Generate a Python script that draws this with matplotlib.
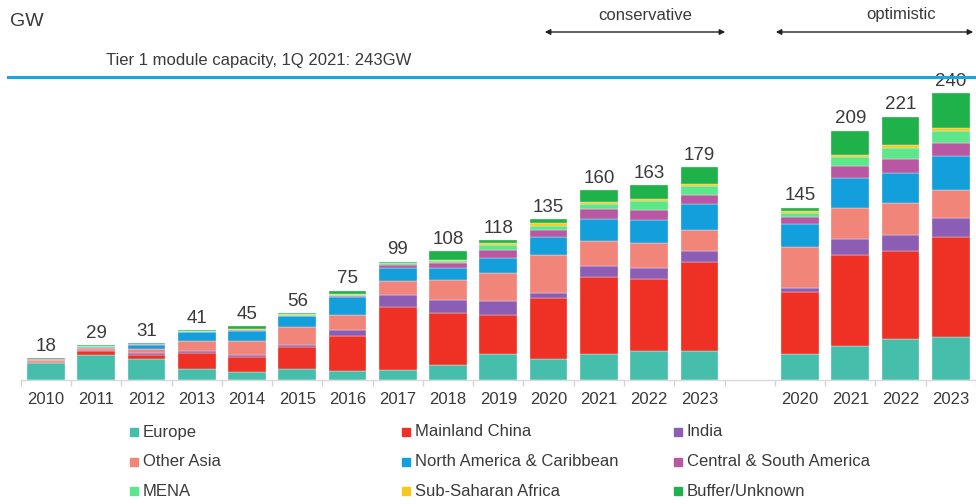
import matplotlib
matplotlib.use("Agg")
import matplotlib.pyplot as plt
from matplotlib.patches import Rectangle, FancyArrowPatch
from matplotlib.lines import Line2D
import numpy as np

plt.rcParams['font.family'] = ['Liberation Sans', 'DejaVu Sans']

years = ["2010", "2011", "2012", "2013", "2014", "2015", "2016", "2017", "2018",
         "2019", "2020", "2021", "2022", "2023", "2020", "2021", "2022", "2023"]
totals = [18, 29, 31, 41, 45, 56, 75, 99, 108, 118, 135, 160, 163, 179, 145, 209, 221, 240]

europe = [14.5, 20.7, 17.9, 9.5, 6.4, 9.0, 7.3, 8.7, 12.3, 21.8, 17.4, 21.8, 24.6, 24.6, 21.6, 28.9, 34.2, 36.4]
china = [0.6, 3.9, 3.4, 13.5, 13.2, 18.5, 29.4, 52.6, 43.7, 33.1, 51.8, 65.0, 60.6, 74.3, 52.0, 75.9, 73.9, 83.8]
india = [0.3, 0.6, 1.1, 1.6, 1.4, 2.2, 5.0, 10.1, 11.2, 11.5, 4.2, 9.2, 8.9, 9.8, 3.9, 13.4, 14.0, 16.0]
other_asia = [1.2, 1.4, 3.4, 8.4, 12.0, 14.8, 12.9, 11.8, 16.6, 23.8, 31.6, 21.0, 21.3, 17.6, 34.0, 26.6, 26.3, 23.5]
north_america = [0.6, 1.0, 3.3, 7.0, 7.9, 9.0, 15.1, 11.2, 10.3, 12.0, 15.4, 18.5, 19.3, 21.3, 19.6, 25.2, 25.8, 28.9]
central_south_america = [0.3, 0.3, 0.9, 0.6, 0.8, 0.6, 1.2, 2.5, 3.9, 7.0, 5.6, 7.8, 8.2, 7.9, 5.6, 10.1, 11.2, 10.4]
mena = [0.3, 0.3, 0.3, 0.3, 0.6, 0.6, 0.6, 1.1, 1.7, 4.2, 3.7, 4.5, 7.8, 7.5, 3.9, 7.0, 9.5, 10.4]
sub_saharan_africa = [0.1, 0.1, 0.2, 0.2, 0.6, 0.5, 0.4, 0.6, 1.1, 2.0, 2.0, 1.7, 1.1, 1.7, 1.7, 2.0, 2.2, 2.0]
buffer_unknown = [0.5, 0.9, 0.5, 0.5, 2.2, 1.1, 3.0, 0.8, 7.3, 2.2, 3.3, 10.1, 11.8, 14.0, 2.5, 20.2, 24.0, 29.4]

series_names = ["Europe", "Mainland China", "India", "Other Asia", "North America & Caribbean",
                "Central & South America", "MENA", "Sub-Saharan Africa", "Buffer/Unknown"]
series = [europe, china, india, other_asia, north_america, central_south_america,
          mena, sub_saharan_africa, buffer_unknown]
colors = ["#45bfac", "#ee3124", "#8b5db5", "#f2857a", "#139fdc", "#b957a3",
          "#5ee68a", "#f8c81c", "#1fb24b"]

capacity_label = "Tier 1 module capacity, 1Q 2021: 243GW"

W, H = 976, 504
fig = plt.figure(figsize=(W / 100, H / 100), dpi=100)
ax_left = 20.7 / W
ax_bottom = (H - 380) / H
ax = fig.add_axes([ax_left, ax_bottom, 1 - ax_left, 1 - ax_bottom])

positions = list(range(14)) + list(range(15, 19))
x = np.array(positions, dtype=float)
bottom = np.zeros(len(x))
txt = "#3a3a3a"
for name, vals, c in zip(series_names, series, colors):
    v = np.array(vals)
    ax.bar(x, v, bottom=bottom, width=0.75, color=c, edgecolor="#f4f4f4", linewidth=0.25, label=name)
    bottom += v

for xi, top, t in zip(x, bottom, totals):
    ax.annotate(str(t), (xi, top), xytext=(0, 2.5), textcoords="offset points",
                ha="center", va="bottom", fontsize=13.5, color=txt)

ax.set_xlim(-0.5, 18.5)
ax.set_ylim(0, 380 / 1.19)
ax.set_xticks(x)
ax.set_xticklabels(years, fontsize=12, color=txt)
ax.tick_params(axis="x", which="major", length=0, pad=9)
ax.set_xticks(np.arange(-0.5, 18.6, 1.0), minor=True)
ax.tick_params(axis="x", which="minor", length=4.5, color="#d4d4d4", width=1)
ax.set_yticks([])
for s in ["top", "left", "right"]:
    ax.spines[s].set_visible(False)
ax.spines["bottom"].set_color("#d9d9d9")
ax.spines["bottom"].set_linewidth(1)

# capacity line
fig.add_artist(Line2D([8 / W, 1.0], [1 - 77 / H, 1 - 77 / H], color="#16a6e0", lw=2.2,
                      transform=fig.transFigure))
fig.text(106 / W, 1 - 60 / H, capacity_label, fontsize=12, color=txt, ha="left", va="center")
fig.text(10 / W, 1 - 22 / H, "GW", fontsize=14, color=txt, ha="left", va="center")

# scenario arrows
for label, x0, x1, xc in [("conservative", 542, 728, 645), ("optimistic", 773, 976, 901)]:
    fig.text(xc / W, 1 - 15 / H, label, fontsize=12, color=txt, ha="center", va="center")
    fig.add_artist(FancyArrowPatch(
        (x0 / W, 1 - 32 / H), (x1 / W, 1 - 32 / H), transform=fig.transFigure,
        arrowstyle="<|-|>", mutation_scale=8, color="#222222", lw=1))

# legend (manual, 3 columns)
for i, (name, c) in enumerate(zip(series_names, colors)):
    r, col = divmod(i, 3)
    px = 130 + 272 * col
    py = 432 + 29.5 * r
    fig.add_artist(Rectangle((px / W, 1 - (py + 4) / H), 8 / W, 8 / H, color=c,
                             transform=fig.transFigure))
    fig.text((px + 13) / W, 1 - py / H, name, fontsize=12, color=txt, ha="left", va="center")

fig.savefig("out.png", dpi=100)
